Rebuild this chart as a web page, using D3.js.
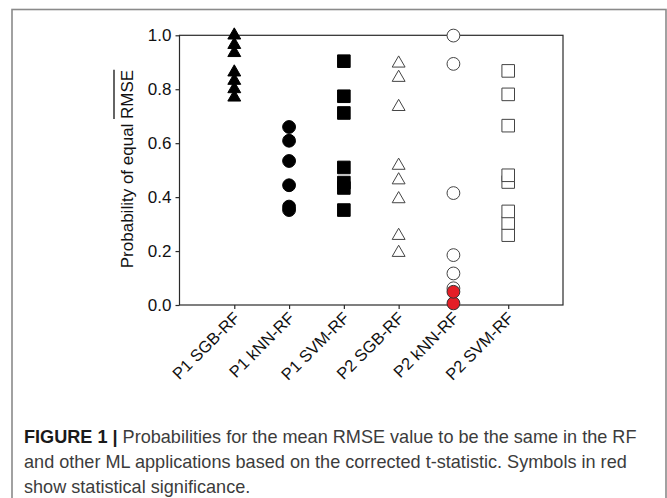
<!DOCTYPE html>
<html>
<head>
<meta charset="utf-8">
<script src="https://cdn.jsdelivr.net/npm/d3@7"></script>
<style>
  html, body { margin: 0; padding: 0; background: #fff; }
  svg { display: block; }
  text { font-family: "Liberation Sans", Arial, Helvetica, sans-serif; }
</style>
</head>
<body>
<svg id="chart" width="667" height="498"></svg>
<script>
// ---------- data ----------
const categories = ["P1 SGB-RF", "P1 kNN-RF", "P1 SVM-RF", "P2 SGB-RF", "P2 kNN-RF", "P2 SVM-RF"];
const p1SGB = [1.0, 0.965, 0.935, 0.863, 0.832, 0.801, 0.770];
const p1kNN = [0.660, 0.609, 0.534, 0.444, 0.365, 0.352];
const p1SVM = [0.904, 0.774, 0.712, 0.510, 0.454, 0.434, 0.352];
const p2SGB = [0.896, 0.843, 0.735, 0.517, 0.463, 0.393, 0.257, 0.194];
const p2kNN = [0.999, 0.894, 0.415, 0.185, 0.117, 0.062];
const p2kNNSignificant = [0.049, 0.006];
const p2SVM = [0.868, 0.781, 0.665, 0.481, 0.456, 0.347, 0.304, 0.259];
const yTicks = [0.0, 0.2, 0.4, 0.6, 0.8, 1.0];
const yLabelPrefix = "Probability of equal ";
const yLabelOver = "RMSE";
const captionBold = "FIGURE 1 |";
const captionLines = [
  " Probabilities for the mean RMSE value to be the same in the RF",
  "and other ML applications based on the corrected t-statistic. Symbols in red",
  "show statistical significance."
];

// ---------- layout ----------
const svg = d3.select("#chart");
const plot = { left: 179.5, right: 563, top: 35.3, bottom: 305 };

const x = d3.scalePoint().domain(categories).range([plot.left, plot.right]).padding(1);
const y = d3.scaleLinear().domain([0, 1]).range([plot.bottom, plot.top]);

// outer figure border
svg.append("rect")
  .attr("x", 12).attr("y", 9.5).attr("width", 654).attr("height", 520)
  .attr("fill", "none").attr("stroke", "#8a8a8a").attr("stroke-width", 1.6);

// plot frame
svg.append("rect")
  .attr("x", plot.left).attr("y", plot.top)
  .attr("width", plot.right - plot.left).attr("height", plot.bottom - plot.top)
  .attr("fill", "none").attr("stroke", "#2a2a2a").attr("stroke-width", 1.2);

// y axis
const yAxis = svg.append("g")
  .attr("transform", `translate(${plot.left},0)`)
  .call(d3.axisLeft(y).tickValues(yTicks).tickFormat(d3.format(".1f")).tickSize(4).tickPadding(4));
yAxis.select(".domain").remove();
yAxis.selectAll("line").attr("stroke", "#2a2a2a").attr("stroke-width", 1.2);
yAxis.selectAll("text").attr("font-size", 17).attr("fill", "#111")
  .attr("font-family", "Liberation Sans, Arial, sans-serif");

// x axis
const xAxis = svg.append("g")
  .attr("transform", `translate(0,${plot.bottom})`)
  .call(d3.axisBottom(x).tickSize(4).tickFormat(d => d));
xAxis.select(".domain").remove();
xAxis.selectAll("line").attr("stroke", "#2a2a2a").attr("stroke-width", 1.2);
xAxis.selectAll("text")
  .attr("font-size", 16.5).attr("fill", "#111")
  .attr("font-family", "Liberation Sans, Arial, sans-serif")
  .attr("text-anchor", "end")
  .attr("x", 0).attr("y", 0).attr("dy", 0)
  .attr("transform", "translate(6,14) rotate(-45)");

// y label with overline on RMSE
const ylg = svg.append("g").attr("transform", "translate(127,169) rotate(-90)");
const ylt = ylg.append("text")
  .attr("text-anchor", "middle").attr("dy", "0.36em")
  .attr("font-size", 17).attr("fill", "#111");
const ts1 = ylt.append("tspan").text(yLabelPrefix);
const ts2 = ylt.append("tspan").text(yLabelOver);
{
  const total = ylt.node().getComputedTextLength();
  const w1 = ts1.node().getComputedTextLength();
  const x0 = -total / 2 + w1;
  ylg.append("line")
    .attr("x1", x0).attr("x2", total / 2)
    .attr("y1", -13).attr("y2", -13)
    .attr("stroke", "#111").attr("stroke-width", 1.3);
}

// ---------- symbols ----------
const triSize = 72, circSize = Math.PI * 6.4 * 6.4, sqSize = 12.6 * 12.6;
function drawSeries(vals, cat, type, size, fill, stroke) {
  svg.append("g").selectAll("path")
    .data(vals.slice().sort((a, b) => a - b))
    .join("path")
    .attr("transform", d => `translate(${x(cat)},${y(d)})`)
    .attr("d", d3.symbol().type(type).size(size))
    .attr("fill", fill)
    .attr("stroke", stroke)
    .attr("stroke-width", 1);
}
drawSeries(p1SGB, categories[0], d3.symbolTriangle, triSize, "#000", "#000");
drawSeries(p1kNN, categories[1], d3.symbolCircle, circSize, "#000", "#000");
drawSeries(p1SVM, categories[2], d3.symbolSquare, sqSize, "#000", "#000");
drawSeries(p2SGB, categories[3], d3.symbolTriangle, triSize, "#fff", "#444");
drawSeries(p2kNN, categories[4], d3.symbolCircle, circSize, "#fff", "#444");
drawSeries(p2kNNSignificant, categories[4], d3.symbolCircle, circSize, "#e41e26", "#333");
drawSeries(p2SVM, categories[5], d3.symbolSquare, sqSize, "#fff", "#444");

// ---------- caption ----------
const cap = svg.append("g").attr("font-size", 18.1).attr("fill", "#3c3c3c");
const l1 = cap.append("text").attr("x", 24).attr("y", 443);
l1.append("tspan").attr("font-weight", "bold").attr("fill", "#1a1a1a").text(captionBold);
l1.append("tspan").text(captionLines[0]);
cap.append("text").attr("x", 24).attr("y", 468).text(captionLines[1]);
cap.append("text").attr("x", 24).attr("y", 493).text(captionLines[2]);
</script>
</body>
</html>
